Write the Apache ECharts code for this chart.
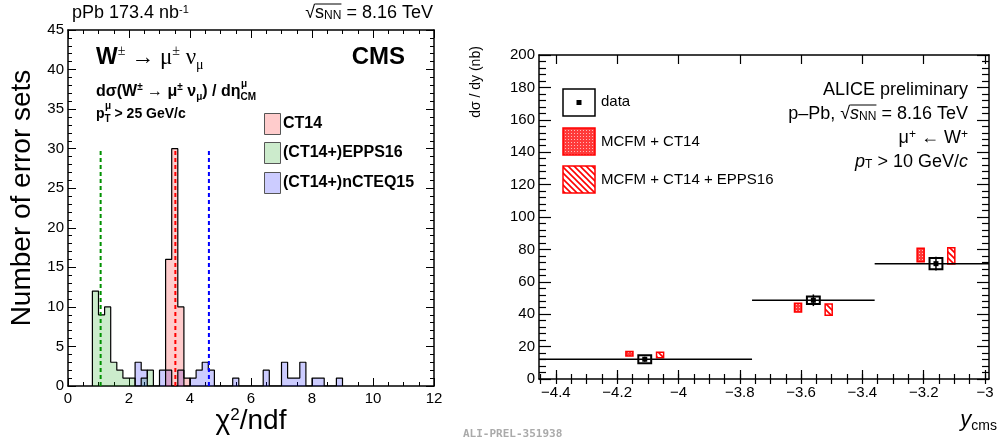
<!DOCTYPE html>
<html>
<head>
<meta charset="utf-8">
<script src="https://cdn.jsdelivr.net/npm/echarts@6/dist/echarts.min.js"></script>
<style>
  html, body { margin: 0; padding: 0; background: #fff; }
  #chart { width: 999px; height: 445px; }
</style>
</head>
<body>
<div id="chart"></div>
<script>
// ---- left panel: chi2/ndf of the error sets, bins of 0.2 starting at 0 ----
var binWidth = 0.2;
var ct14First = 16;
var ct14Counts = [16, 30, 10, 1];
var epps16First = 4;
var epps16Counts = [12, 9, 10, 3, 2, 1, 1, 0, 1, 2];
var ncteq15First = 11;
var ncteq15Counts = [3, 2, 0, 0, 2, 2, 0, 2, 0, 1, 2, 3, 2, 0, 0, 0, 1, 0, 0, 0, 0, 2, 0, 0, 3, 1, 1, 3, 0, 1, 1, 0, 0, 1];
var meanCt14 = 3.52;
var meanEpps16 = 1.07;
var meanNcteq15 = 4.62;
var meanLineHeight = 30;

// ---- right panel: ALICE dsigma/dy, mu+ <- W+ ----
var binLow = [-4.46, -3.76, -3.36];
var binHigh = [-3.76, -3.36, -2.96];
var yMean = [-4.11, -3.56, -3.16];
var sigma = [12.2, 48.6, 71.2];
var statErr = [1.6, 3.6, 4.3];
var sysErr = [2.5, 2.3, 3.5];
var ct14Low = [14.2, 41.3, 72.4];
var ct14High = [16.9, 46.7, 80.7];
var eppsLow = [13.1, 39.3, 71.0];
var eppsHigh = [16.5, 46.3, 81.0];
var modelShift = 0.05;
var yTickLabels = [-4.4, -4.2, -4, -3.8, -3.6, -3.4, -3.2, -3];

var SANS = "'Liberation Sans', Arial, sans-serif";
var SERIF = "'Liberation Serif', 'DejaVu Serif', serif";

function stepData(first, counts) {
  var d = [[first * binWidth, 0]];
  counts.forEach(function (c, i) { d.push([(first + i) * binWidth, c]); });
  d.push([(first + counts.length) * binWidth, 0]);
  return d;
}

function histSeries(name, first, counts, fill) {
  return {
    type: 'line', name: name, xAxisIndex: 0, yAxisIndex: 0,
    data: stepData(first, counts), step: 'end', symbol: 'none',
    lineStyle: { color: '#000', width: 1.2 },
    areaStyle: { color: fill, opacity: 1 },
    z: 3
  };
}

function meanLine(x, color) {
  return {
    type: 'line', xAxisIndex: 0, yAxisIndex: 0, symbol: 'none',
    data: [[x, 0], [x, meanLineHeight]],
    lineStyle: { color: color, width: 2, type: [4, 3] },
    z: 5
  };
}

// fill patterns for the model boxes
function dotPattern() {
  var c = document.createElement('canvas');
  c.width = 3; c.height = 3;
  var g = c.getContext('2d');
  g.fillStyle = '#ff3a3a'; g.fillRect(0, 0, 3, 3);
  g.fillStyle = '#ffb8b8'; g.fillRect(1, 1, 1, 1);
  return { image: c, repeat: 'repeat' };
}
function hatchPattern() {
  var c = document.createElement('canvas');
  c.width = 6; c.height = 6;
  var g = c.getContext('2d');
  g.fillStyle = '#fff'; g.fillRect(0, 0, 6, 6);
  g.strokeStyle = '#ff0000'; g.lineWidth = 1.6;
  g.beginPath();
  g.moveTo(-3, 3); g.lineTo(3, 9);
  g.moveTo(0, 0); g.lineTo(6, 6);
  g.moveTo(3, -3); g.lineTo(9, 3);
  g.stroke();
  return { image: c, repeat: 'repeat' };
}
var dots = dotPattern();
var hatch = hatchPattern();

var mctx = document.createElement('canvas').getContext('2d');
function tw(text, size, style) {
  mctx.font = (style || '') + ' ' + size + 'px ' + SANS;
  return mctx.measureText(text).width;
}

function fmtNum(v) {
  var s = String(Math.round(v * 10) / 10);
  return s.charAt(0) === '-' ? '\u2212' + s.slice(1) : s;
}

var minorY = [];
for (var k = -89; k <= -60; k++) minorY.push(Math.round(k * 5) / 100);

function frameX(grid, pos, min, max, extra) {
  return Object.assign({
    type: 'value', gridIndex: grid, position: pos, min: min, max: max,
    axisLine: { show: true, onZero: false, lineStyle: { color: '#000', width: 1.5 } },
    splitLine: { show: false },
    axisLabel: { show: false }
  }, extra);
}

var tickFont = { fontSize: 15, color: '#000', fontFamily: SANS };

var option = {
  animation: false,
  backgroundColor: '#fff',
  grid: [
    { left: 68, top: 30, width: 366, height: 356 },
    { left: 539, top: 55, width: 450, height: 324 }
  ],
  xAxis: [
    frameX(0, 'bottom', 0, 12, {
      interval: 2,
      axisTick: { inside: true, length: 8, lineStyle: { color: '#000' } },
      minorTick: { show: true, splitNumber: 4, length: 4, lineStyle: { color: '#000' } },
      axisLabel: Object.assign({ show: true, margin: 5 }, tickFont)
    }),
    frameX(0, 'top', 0, 12, {
      interval: 2,
      axisTick: { inside: true, length: 8, lineStyle: { color: '#000' } },
      minorTick: { show: true, splitNumber: 4, length: 4, lineStyle: { color: '#000' } }
    }),
    frameX(1, 'bottom', -4.455, -2.987, {
      axisTick: { inside: true, length: 9, customValues: yTickLabels, lineStyle: { color: '#000', width: 1.2 } },
      axisLabel: Object.assign({ show: true, margin: 6, customValues: yTickLabels, formatter: fmtNum }, tickFont)
    }),
    frameX(1, 'bottom', -4.455, -2.987, {
      axisLine: { show: false },
      axisTick: { inside: true, length: 5, customValues: minorY, lineStyle: { color: '#000', width: 1.2 } }
    }),
    frameX(1, 'top', -4.455, -2.987, {
      axisTick: { inside: true, length: 9, customValues: yTickLabels, lineStyle: { color: '#000', width: 1.2 } }
    }),
    frameX(1, 'top', -4.455, -2.987, {
      axisLine: { show: false },
      axisTick: { inside: true, length: 5, customValues: minorY, lineStyle: { color: '#000', width: 1.2 } }
    })
  ],
  yAxis: [
    frameX(0, 'left', 0, 45, {
      interval: 5,
      axisTick: { inside: true, length: 8, lineStyle: { color: '#000' } },
      minorTick: { show: true, splitNumber: 5, length: 4, lineStyle: { color: '#000' } },
      axisLabel: Object.assign({ show: true, margin: 4 }, tickFont)
    }),
    frameX(0, 'right', 0, 45, {
      interval: 5,
      axisTick: { inside: true, length: 8, lineStyle: { color: '#000' } },
      minorTick: { show: true, splitNumber: 5, length: 4, lineStyle: { color: '#000' } }
    }),
    frameX(1, 'left', 0, 200, {
      interval: 20,
      axisTick: { inside: true, length: 12, lineStyle: { color: '#000', width: 1.2 } },
      minorTick: { show: true, splitNumber: 5, length: 7, lineStyle: { color: '#000', width: 1.2 } },
      axisLabel: Object.assign({ show: true, margin: 4 }, tickFont)
    }),
    frameX(1, 'right', 0, 200, {
      interval: 20,
      axisTick: { inside: true, length: 12, lineStyle: { color: '#000', width: 1.2 } },
      minorTick: { show: true, splitNumber: 5, length: 7, lineStyle: { color: '#000', width: 1.2 } }
    })
  ],
  series: [
    histSeries('(CT14+)EPPS16', epps16First, epps16Counts, 'rgba(0,160,0,0.2)'),
    histSeries('(CT14+)nCTEQ15', ncteq15First, ncteq15Counts, 'rgba(0,0,255,0.2)'),
    histSeries('CT14', ct14First, ct14Counts, 'rgba(255,0,0,0.2)'),
    meanLine(meanEpps16, '#009000'),
    meanLine(meanCt14, '#ff0000'),
    meanLine(meanNcteq15, '#0000ff'),
    {
      type: 'custom', name: 'data', xAxisIndex: 2, yAxisIndex: 2, z: 6,
      data: yMean.map(function (m, i) { return [m, sigma[i], statErr[i], sysErr[i], binLow[i], binHigh[i]]; }),
      renderItem: function (params, api) {
        var cs = params.coordSys;
        var c = api.coord([api.value(0), api.value(1)]);
        var xl = Math.max(api.coord([api.value(4), 0])[0], cs.x);
        var xr = Math.min(api.coord([api.value(5), 0])[0], cs.x + cs.width);
        var st = api.coord([0, api.value(1) + api.value(2)])[1];
        var sb = api.coord([0, api.value(1) - api.value(2)])[1];
        var yt = api.coord([0, api.value(1) + api.value(3)])[1];
        var yb = api.coord([0, api.value(1) - api.value(3)])[1];
        var hw = api.size([0.021, 0])[0];
        return {
          type: 'group', children: [
            { type: 'line', shape: { x1: xl, y1: c[1], x2: xr, y2: c[1] }, style: { stroke: '#000', lineWidth: 1.5 } },
            { type: 'line', shape: { x1: c[0], y1: st, x2: c[0], y2: sb }, style: { stroke: '#000', lineWidth: 1.5 } },
            { type: 'rect', shape: { x: c[0] - hw, y: yt, width: 2 * hw, height: yb - yt }, style: { fill: 'none', stroke: '#000', lineWidth: 2 } },
            { type: 'rect', shape: { x: c[0] - 2.5, y: c[1] - 2.5, width: 5, height: 5 }, style: { fill: '#000' } }
          ]
        };
      }
    },
    {
      type: 'custom', name: 'MCFM + CT14', xAxisIndex: 2, yAxisIndex: 2, z: 5,
      data: yMean.map(function (m, i) { return [m - modelShift, ct14Low[i], ct14High[i]]; }),
      renderItem: function (params, api) {
        var lo = api.coord([api.value(0), api.value(1)]);
        var hi = api.coord([api.value(0), api.value(2)]);
        var hw = api.size([0.0115, 0])[0];
        return { type: 'rect', shape: { x: lo[0] - hw, y: hi[1], width: 2 * hw, height: lo[1] - hi[1] }, style: { fill: dots, stroke: '#ff0000', lineWidth: 1.5 } };
      }
    },
    {
      type: 'custom', name: 'MCFM + CT14 + EPPS16', xAxisIndex: 2, yAxisIndex: 2, z: 5,
      data: yMean.map(function (m, i) { return [m + modelShift, eppsLow[i], eppsHigh[i]]; }),
      renderItem: function (params, api) {
        var lo = api.coord([api.value(0), api.value(1)]);
        var hi = api.coord([api.value(0), api.value(2)]);
        var hw = api.size([0.0115, 0])[0];
        return { type: 'rect', shape: { x: lo[0] - hw, y: hi[1], width: 2 * hw, height: lo[1] - hi[1] }, style: { fill: hatch, stroke: '#ff0000', lineWidth: 1.5 } };
      }
    }
  ],
  graphic: []
};

function txt(x, y, text, st, extra) {
  var style = Object.assign({ text: text, x: 0, y: 0, fill: '#000', fontFamily: SANS, fontSize: 15,
    align: 'left', verticalAlign: 'middle' }, st);
  style.textAlign = style.align;
  style.textVerticalAlign = style.verticalAlign;
  return Object.assign({ type: 'text', x: x, y: y, z: 100, style: style }, extra);
}
function box(x, y, w, h, fill, stroke, lw) {
  return { type: 'rect', z: 100, shape: { x: x, y: y, width: w, height: h }, style: { fill: fill, stroke: stroke, lineWidth: lw } };
}
function hline(x1, x2, y, lw) {
  return { type: 'line', z: 100, shape: { x1: x1, y1: y, x2: x2, y2: y }, style: { stroke: '#000', lineWidth: lw || 1 } };
}

var G = option.graphic;
// left panel labels
G.push(txt(72, 13, 'pPb 173.4 nb{sup|-1}', { fontSize: 18, rich: { sup: { fontSize: 11, verticalAlign: 'top', fontFamily: SANS } } }));
(function () {
  var rest = ' = 8.16 TeV';
  var start = 433 - tw('\u221A', 18) - tw('s', 18) - tw('NN', 12) - tw(rest, 18);
  var s0 = start + tw('\u221A', 18);
  G.push(txt(433, 13, '\u221As{sub|NN}' + rest, { fontSize: 18, align: 'right', rich: { sub: { fontSize: 12, verticalAlign: 'bottom', fontFamily: SANS } } }));
  G.push(hline(s0, s0 + tw('s', 18) + tw('NN', 12), 4, 1));
})();
G.push(txt(96, 58, '{w|W}{sp|\u00B1}{g| \u2192 \u03BC}{sp|\u00B1}{g| \u03BD}{sb|\u03BC}', {
  rich: {
    w: { fontSize: 23, fontWeight: 'bold', fontFamily: SANS, lineHeight: 28 },
    g: { fontSize: 23, fontFamily: SERIF, lineHeight: 28 },
    sp: { fontSize: 14, fontFamily: SERIF, verticalAlign: 'top', lineHeight: 14 },
    sb: { fontSize: 14, fontFamily: SERIF, verticalAlign: 'bottom', lineHeight: 14 }
  }
}));
G.push(txt(405, 57, 'CMS', { fontSize: 24, fontWeight: 'bold', align: 'right' }));
G.push(txt(96, 92, '{b|d\u03C3(W}{sp|\u00B1}{b| \u2192 \u03BC}{sp|\u00B1}{b| \u03BD}{sb|\u03BC}{b|) / d\u03B7}{sb|CM}', {
  rich: {
    b: { fontSize: 16, fontWeight: 'bold', fontFamily: SANS, lineHeight: 20 },
    sp: { fontSize: 10, fontWeight: 'bold', fontFamily: SANS, verticalAlign: 'top', lineHeight: 10 },
    sb: { fontSize: 10, fontWeight: 'bold', fontFamily: SANS, verticalAlign: 'bottom', lineHeight: 10 }
  }
}));
G.push(txt(241, 84, '\u03BC', { fontSize: 10, fontWeight: 'bold' }));
G.push(txt(96, 114, '{b|p}{sb|T}{b| > 25 GeV/c}', {
  rich: {
    b: { fontSize: 14, fontWeight: 'bold', fontFamily: SANS, lineHeight: 20 },
    sb: { fontSize: 10, fontWeight: 'bold', fontFamily: SANS, verticalAlign: 'bottom', lineHeight: 10 }
  }
}));
G.push(txt(105, 106, '\u03BC', { fontSize: 10, fontWeight: 'bold' }));
// left legend
var legL = [['CT14', '#ffcccc', 124], ['(CT14+)EPPS16', '#ccebcc', 153], ['(CT14+)nCTEQ15', '#ccccff', 183]];
legL.forEach(function (l) {
  G.push(box(264.5, l[2] - 10.5, 16, 21, l[1], '#555', 1));
  G.push(txt(283, l[2], l[0], { fontSize: 16, fontWeight: 'bold' }));
});
G.push(txt(22, 198, 'Number of error sets', { fontSize: 28, align: 'center' }, { rotation: Math.PI / 2 }));
G.push(txt(251, 421, '\u03C7{sp|2}/ndf', { fontSize: 28, align: 'center', rich: { sp: { fontSize: 17, verticalAlign: 'top', fontFamily: SANS } } }));

// right panel labels
G.push(txt(476, 82, 'd\u03C3 / dy (nb)', { fontSize: 14, align: 'center' }, { rotation: Math.PI / 2 }));
G.push(txt(997, 420, '{i|y}{sb|cms}', { align: 'right', rich: {
  i: { fontSize: 22, fontStyle: 'italic', fontFamily: SANS, lineHeight: 26 },
  sb: { fontSize: 14, fontFamily: SANS, verticalAlign: 'bottom', lineHeight: 14 }
} }));
G.push(txt(463, 434, 'ALI-PREL-351938', { fontSize: 11, fontWeight: 'bold', fill: '#aaa', fontFamily: "'DejaVu Sans Mono', monospace" }));
var R = { fontSize: 18, align: 'right' };
G.push(txt(968, 90, 'ALICE preliminary', R));
(function () {
  var rest = ' = 8.16 TeV';
  var start = 968 - tw('p\u2013Pb, \u221A', 18) - tw('s', 18, 'italic') - tw('NN', 12) - tw(rest, 18);
  var s0 = start + tw('p\u2013Pb, \u221A', 18);
  G.push(txt(968, 114, 'p\u2013Pb, \u221A{i|s}{sb|NN}' + rest, Object.assign({ rich: {
    i: { fontSize: 18, fontStyle: 'italic', fontFamily: SANS },
    sb: { fontSize: 12, fontFamily: SANS, verticalAlign: 'bottom' }
  } }, R)));
  G.push(hline(s0, s0 + tw('s', 18, 'italic') + tw('NN', 12), 105, 1));
})();
G.push(txt(968, 138, '\u03BC{sp|+} \u2190 W{sp|+}', Object.assign({ rich: {
  sp: { fontSize: 12, fontFamily: SANS, verticalAlign: 'top' }
} }, R)));
G.push(txt(968, 162, '{i|p}{sb|T} > 10 GeV/{i|c}', Object.assign({ rich: {
  i: { fontSize: 18, fontStyle: 'italic', fontFamily: SANS },
  sb: { fontSize: 12, fontFamily: SANS, verticalAlign: 'bottom' }
} }, R)));
// right legend
G.push(box(563, 89, 32, 27, '#fff', '#000', 1.5));
G.push(box(576.5, 100, 5, 5, '#000', null, 0));
G.push(txt(601, 102, 'data', { fontSize: 15 }));
G.push(box(563, 128, 32, 27, dots, '#ff0000', 1.5));
G.push(txt(601, 142, 'MCFM + CT14', { fontSize: 15 }));
G.push(box(563, 166, 32, 27, hatch, '#ff0000', 1.5));
G.push(txt(601, 180, 'MCFM + CT14 + EPPS16', { fontSize: 15 }));

var chart = echarts.init(document.getElementById('chart'));
chart.setOption(option);
</script>
</body>
</html>
